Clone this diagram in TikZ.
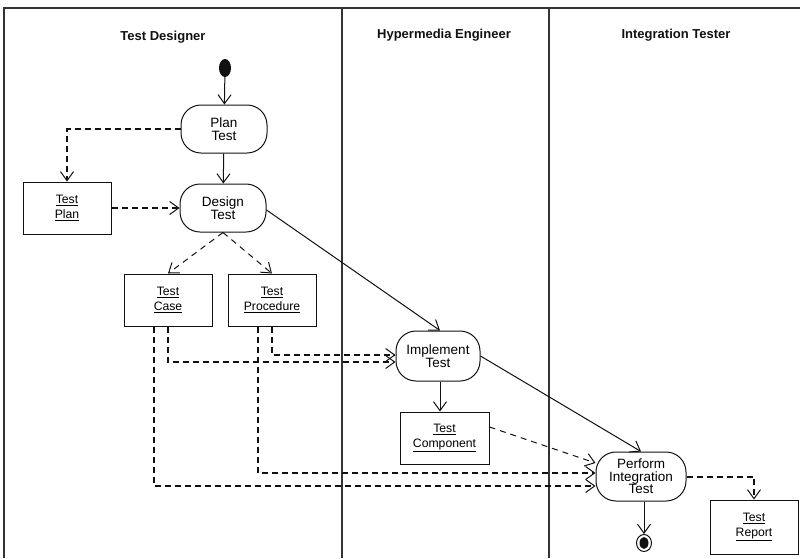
\documentclass[tikz,border=0pt]{standalone}
\usepackage{fontspec}
\setmainfont{Liberation Sans}
\setsansfont{Liberation Sans}
\usepackage{tikz}
\usetikzlibrary{arrows.meta,positioning,shapes.geometric,calc}
\definecolor{laneLine}{HTML}{333333}
\definecolor{inkBlack}{HTML}{111111}
\tikzset{
  >={Straight Barb[length=9pt,width=13pt]},
  every picture/.append style={font=\sffamily},
  lanetitle/.style={font=\sffamily\bfseries\fontsize{13}{15}\selectfont,text=inkBlack},
  activity/.style={rectangle,rounded corners=20pt,draw=inkBlack,line width=1pt,fill=white,
    minimum width=86pt,minimum height=48pt,inner sep=2pt,align=center,
    font=\sffamily\fontsize{13.5}{12.5}\selectfont},
  artifact/.style={rectangle,draw=inkBlack,line width=1pt,fill=white,
    minimum width=88pt,minimum height=52pt,inner sep=2pt,align=center,
    font=\sffamily\fontsize{12.2}{15}\selectfont},
  startnode/.style={ellipse,fill=inkBlack,minimum width=12pt,minimum height=18pt,inner sep=0pt},
  stopouter/.style={ellipse,draw=inkBlack,line width=1pt,minimum width=15pt,minimum height=17pt,inner sep=0pt},
  stopinner/.style={ellipse,fill=inkBlack,minimum width=9pt,minimum height=12pt,inner sep=0pt},
  flowarrow/.style={->,draw=inkBlack,line width=1pt},
  objarrow/.style={->,draw=inkBlack,line width=2pt,dash pattern=on 6pt off 4pt,
    >={Straight Barb[length=9pt,width=13pt,line width=1pt]}},
  thinarrow/.style={->,draw=inkBlack,line width=1pt,dash pattern=on 6pt off 5pt},
}

\begin{document}
\begin{tikzpicture}[x=1pt,y=-1pt]
  \useasboundingbox (0,0) rectangle (804,558);
  \fill[white] (0,0) rectangle (804,558);

  \draw[laneLine, line width=1.5pt] (4,558) -- (4,8) -- (800,8);
  \draw[laneLine, line width=1.2pt] (342,8) -- (342,558);
  \draw[laneLine, line width=1.2pt] (549,8) -- (549,558);

  \node[lanetitle] (tdlane) at (163,37) {Test Designer};
  \node[lanetitle] (helane) at (444,35) {Hypermedia Engineer};
  \node[lanetitle] (itlane) at (676,35) {Integration Tester};

  \node[startnode] (start) at (225,68) {};

  \node[activity] (plan) at (224,129) {Plan\\Test};
  \node[activity] (design) at (223,208) {Design\\Test};
  \node[activity, minimum width=84pt, minimum height=50pt] (impl) at (438,356) {Implement\\Test};
  \node[activity, minimum width=90pt, minimum height=49pt] (perform) at (641,476.5) {Perform\\Integration\\Test};

  \node[artifact] (tplan) at (67,208) {\underline{Test}\\\underline{Plan}};
  \node[artifact] (tcase) at (168,300) {\underline{Test}\\\underline{Case}};
  \node[artifact] (tproc) at (272,300) {\underline{Test}\\\underline{Procedure}};
  \node[artifact, minimum width=89pt] (tcomp) at (444.5,438) {\underline{Test}\\\underline{Component}};
  \node[artifact, minimum height=54pt] (treport) at (754,527) {\underline{Test}\\\underline{Report}};

  \node[stopouter] (stop) at (644,543) {};
  \node[stopinner] (stopdot) at (stop) {};

  \draw[flowarrow] (start) -- (plan);
  \draw[flowarrow] (plan) -- (design);
  \draw[objarrow] (plan.west) -| (tplan.north);
  \draw[objarrow] (tplan) -- (design);
  \draw[thinarrow] (design.south) -- (tcase.north);
  \draw[thinarrow] (design.south) -- (tproc.north);
  \draw[flowarrow] ([yshift=-2pt]design.east) -- ([xshift=2pt]impl.north);
  \draw[objarrow] (tproc.south) |- ([yshift=1pt]impl.west);
  \draw[objarrow] (tcase.south) |- ([yshift=-6pt]impl.west);
  \draw[flowarrow] ([xshift=2pt]impl.south) -- ([xshift=-4.5pt]tcomp.north);
  \draw[flowarrow] (impl.east) -- (perform.north);
  \draw[thinarrow] ([yshift=11pt]tcomp.east) -- ([yshift=13.5pt]perform.west);
  \draw[objarrow] ([xshift=-14pt]tproc.south) |- ([yshift=3.5pt]perform.west);
  \draw[objarrow] ([xshift=-14pt]tcase.south) |- ([yshift=-9.5pt]perform.west);
  \draw[objarrow] (perform.east) -| (treport.north);
  \draw[flowarrow] ([xshift=3pt]perform.south) -- (stop);
\end{tikzpicture}
\end{document}
